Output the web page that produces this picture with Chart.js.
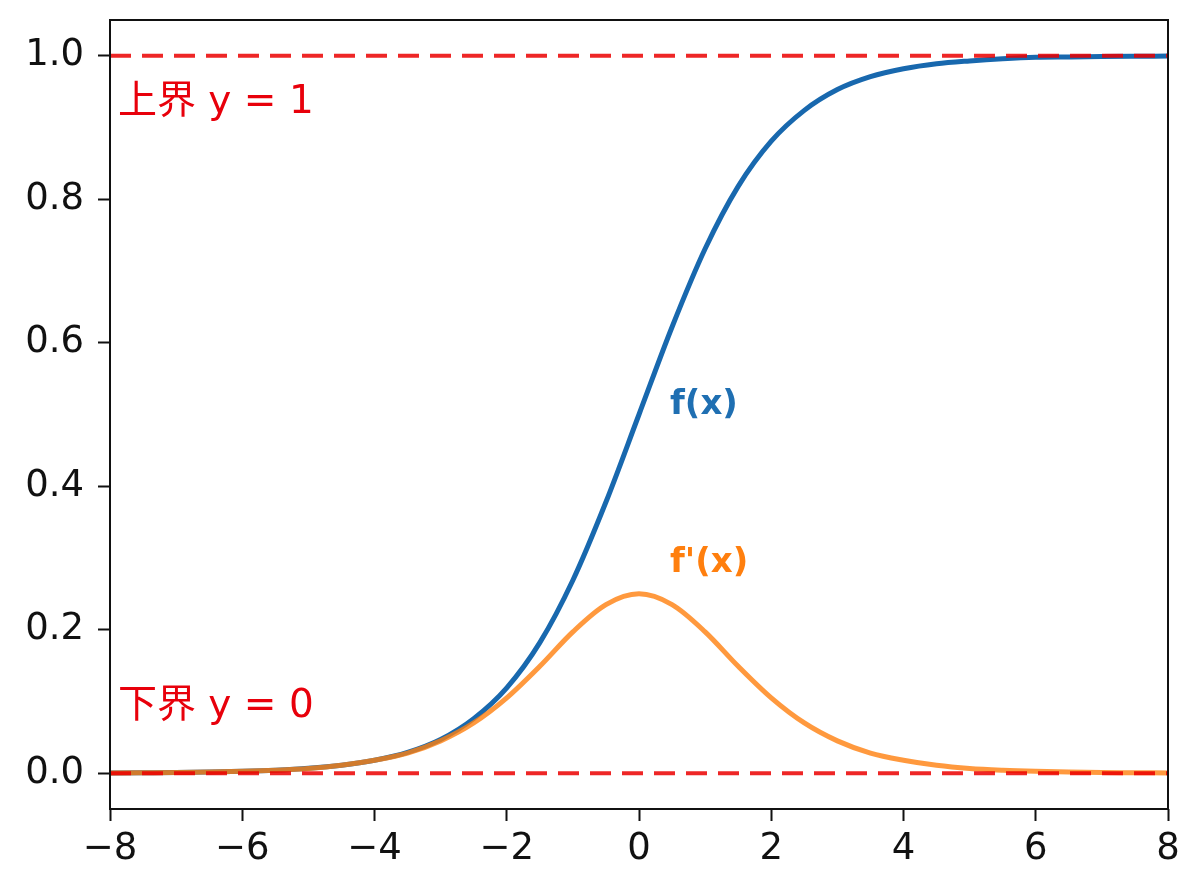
<!DOCTYPE html>
<html>
<head>
    <meta charset="utf-8" />
    <script src="https://cdn.jsdelivr.net/npm/chart.js"></script>
    <style>
        html, body { margin: 0; padding: 0; background: white; }
        #wrap { width: 1200px; height: 893px; }
    </style>
</head>
<body>
    <div id="wrap"><canvas id="sigmoidChart" width="1200" height="893"></canvas></div>

    <script>
        // values
        const xValues = [-8, -7.5, -7, -6.5, -6, -5.5, -5, -4.5, -4, -3.5, -3, -2.5, -2, -1.5, -1, -0.5,
                         0, 0.5, 1, 1.5, 2, 2.5, 3, 3.5, 4, 4.5, 5, 5.5, 6, 6.5, 7, 7.5, 8];
        const fValues = [0.0003, 0.0006, 0.0009, 0.0015, 0.0025, 0.0041, 0.0067, 0.011, 0.018, 0.029, 0.047, 0.076, 0.119, 0.182, 0.269, 0.378,
                         0.5, 0.622, 0.731, 0.818, 0.881, 0.924, 0.953, 0.971, 0.982, 0.989, 0.993, 0.996, 0.998, 0.9985, 0.999, 0.9994, 0.9997];
        const dfValues = [0.0003, 0.0006, 0.0009, 0.0015, 0.0025, 0.0041, 0.0066, 0.011, 0.018, 0.028, 0.045, 0.070, 0.105, 0.149, 0.197, 0.235,
                          0.25, 0.235, 0.197, 0.149, 0.105, 0.070, 0.045, 0.028, 0.018, 0.011, 0.0066, 0.0041, 0.0025, 0.0015, 0.0009, 0.0006, 0.0003];
        const boundX = [-8, 8];
        const upperBound = [1, 1];
        const lowerBound = [0, 0];
        const xTicks = [-8, -6, -4, -2, 0, 2, 4, 6, 8];
        const yTicks = [0, 0.2, 0.4, 0.6, 0.8, 1.0];
        // text labels: [text, x, y, colour, bold]
        const notes = [
            ['上界 y = 1', -7.88, 0.935, '#e8000b', false],
            ['下界 y = 0', -7.88, 0.092, '#e8000b', false],
            ['f(x)', 0.47, 0.513, '#1f6fb2', true],
            ["f'(x)", 0.47, 0.293, '#ff7f0e', true]
        ];

        const pts = (xs, ys) => xs.map((x, i) => ({ x: x, y: ys[i] }));
        const fontFamily = '"DejaVu Sans", "Noto Sans CJK SC", sans-serif';

        const notesPlugin = {
            id: 'notes',
            afterDatasetsDraw(chart) {
                const ctx = chart.ctx;
                const xs = chart.scales.x, ys = chart.scales.y;
                ctx.save();
                notes.forEach(n => {
                    ctx.font = (n[4] ? 'bold 34px ' : '39px ') + fontFamily;
                    ctx.fillStyle = n[3];
                    ctx.textAlign = 'left';
                    ctx.textBaseline = 'middle';
                    ctx.fillText(n[0], xs.getPixelForValue(n[1]), ys.getPixelForValue(n[2]));
                });
                ctx.restore();
            }
        };

        const framePlugin = {
            id: 'frame',
            afterDraw(chart) {
                const a = chart.chartArea;
                const ctx = chart.ctx;
                ctx.save();
                ctx.strokeStyle = '#111';
                ctx.lineWidth = 2;
                ctx.strokeRect(a.left, a.top, a.right - a.left, a.bottom - a.top);
                ctx.restore();
            }
        };

        const noPad = s => { s.paddingTop = 0; s.paddingBottom = 0; s.paddingLeft = 0; s.paddingRight = 0; };

        new Chart(document.getElementById('sigmoidChart'), {
            type: 'line',
            data: {
                datasets: [
                    {
                        label: 'upper',
                        data: pts(boundX, upperBound),
                        borderColor: 'rgba(235, 0, 0, 0.85)',
                        borderWidth: 4,
                        borderDash: [21, 11],
                        pointRadius: 0,
                        order: 1
                    },
                    {
                        label: 'lower',
                        data: pts(boundX, lowerBound),
                        borderColor: 'rgba(235, 0, 0, 0.85)',
                        borderWidth: 4,
                        borderDash: [21, 11],
                        pointRadius: 0,
                        order: 2
                    },
                    {
                        label: "f'(x)",
                        data: pts(xValues, dfValues),
                        borderColor: 'rgba(255, 127, 14, 0.8)',
                        borderWidth: 5,
                        pointRadius: 0,
                        cubicInterpolationMode: 'monotone',
                        order: 3
                    },
                    {
                        label: 'f(x)',
                        data: pts(xValues, fValues),
                        borderColor: '#1868ae',
                        borderWidth: 5,
                        pointRadius: 0,
                        cubicInterpolationMode: 'monotone',
                        order: 4
                    }
                ]
            },
            options: {
                responsive: false,
                animation: false,
                layout: { padding: { top: 20, right: 32, left: 0, bottom: 0 } },
                plugins: {
                    legend: { display: false },
                    tooltip: { enabled: false }
                },
                scales: {
                    x: {
                        type: 'linear',
                        min: -8,
                        max: 8,
                        afterBuildTicks: s => { s.ticks = xTicks.map(v => ({ value: v })); },
                        afterFit: s => { s.height = 84; noPad(s); },
                        grid: { drawOnChartArea: false, tickLength: 12, tickWidth: 2, tickColor: '#111' },
                        border: { display: false },
                        ticks: {
                            color: '#111',
                            padding: 6,
                            maxRotation: 0,
                            font: { family: fontFamily, size: 37 },
                            callback: v => String(v).replace('-', '\u2212')
                        }
                    },
                    y: {
                        type: 'linear',
                        min: -0.05,
                        max: 1.05,
                        afterBuildTicks: s => { s.ticks = yTicks.map(v => ({ value: v })); },
                        afterFit: s => { s.width = 110; noPad(s); },
                        grid: { drawOnChartArea: false, tickLength: 12, tickWidth: 2, tickColor: '#111' },
                        border: { display: false },
                        ticks: {
                            color: '#111',
                            padding: 14,
                            font: { family: fontFamily, size: 37 },
                            callback: v => v.toFixed(1)
                        }
                    }
                }
            },
            plugins: [notesPlugin, framePlugin]
        });
    </script>
</body>
</html>
